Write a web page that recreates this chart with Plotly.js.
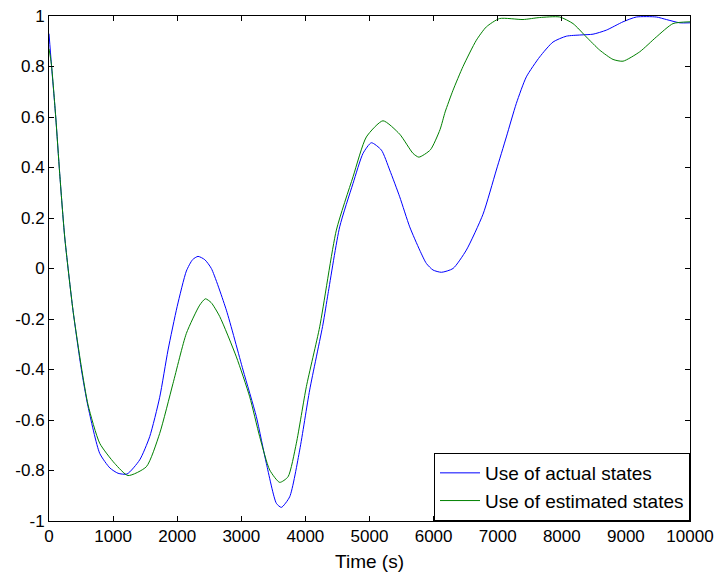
<!DOCTYPE html>
<html>
<head>
<meta charset="utf-8">
<script src="https://cdn.plot.ly/plotly-3.0.1.min.js"></script>
<style>html,body{margin:0;padding:0;background:#fff}#chart{width:719px;height:579px}</style>
</head>
<body>
<div id="chart"></div>
<script>
// Time (s) samples and values
const tActual = [0, 37, 105, 167, 245, 374, 505, 609, 791, 950, 1077, 1217, 1415, 1571, 1727, 1857, 2000, 2143, 2240, 2325, 2430, 2533, 2767, 3027, 3235, 3391, 3547, 3625, 3755, 3911, 4067, 4275, 4353, 4535, 4743, 4899, 5029, 5186, 5315, 5471, 5627, 5783, 5887, 5991, 6122, 6303, 6511, 6771, 6979, 7135, 7291, 7447, 7655, 7863, 8071, 8300, 8487, 8695, 8955, 9163, 9475, 9631, 9839, 10000];
const yActual = [0.93, 0.81, 0.60, 0.376, 0.125, -0.165, -0.40, -0.547, -0.732, -0.79, -0.811, -0.814, -0.758, -0.666, -0.51, -0.323, -0.15, -0.01, 0.035, 0.048, 0.035, 0.0, -0.165, -0.402, -0.587, -0.772, -0.93, -0.946, -0.904, -0.719, -0.481, -0.22, -0.1, 0.165, 0.337, 0.456, 0.498, 0.469, 0.39, 0.284, 0.165, 0.073, 0.02, -0.006, -0.015, 0.0, 0.073, 0.215, 0.39, 0.521, 0.654, 0.759, 0.838, 0.897, 0.92, 0.925, 0.928, 0.944, 0.977, 0.996, 0.996, 0.986, 0.973, 0.973];

const tEstimated = [0, 37, 105, 167, 245, 374, 505, 609, 791, 1025, 1233, 1519, 1727, 1935, 2143, 2351, 2440, 2530, 2663, 2923, 3131, 3287, 3443, 3599, 3729, 3859, 4015, 4223, 4483, 4743, 4951, 5210, 5471, 5679, 5770, 5950, 6100, 6180, 6303, 6459, 6667, 6823, 7031, 7395, 7655, 7967, 8175, 8383, 8591, 8799, 8955, 9215, 9475, 9735, 10000];
const yEstimated = [0.87, 0.81, 0.60, 0.376, 0.125, -0.165, -0.39, -0.54, -0.692, -0.772, -0.82, -0.785, -0.653, -0.455, -0.257, -0.145, -0.12, -0.135, -0.19, -0.35, -0.508, -0.666, -0.798, -0.847, -0.825, -0.692, -0.468, -0.231, 0.152, 0.363, 0.521, 0.585, 0.532, 0.456, 0.441, 0.47, 0.55, 0.62, 0.706, 0.80, 0.904, 0.957, 0.99, 0.986, 0.994, 0.996, 0.97, 0.917, 0.865, 0.828, 0.821, 0.858, 0.917, 0.97, 0.977];

const seriesNames = ["Use of actual states", "Use of estimated states"];
const xTicks = [0, 1000, 2000, 3000, 4000, 5000, 6000, 7000, 8000, 9000, 10000];
const yTicks = [-1, -0.8, -0.6, -0.4, -0.2, 0, 0.2, 0.4, 0.6, 0.8, 1];

const fontFam = "Liberation Sans, Arial, sans-serif";
const traces = [
  {x: tActual, y: yActual, name: seriesNames[0], type: "scatter", mode: "lines",
   line: {color: "#0000ff", width: 1, shape: "spline", smoothing: 0.6}},
  {x: tEstimated, y: yEstimated, name: seriesNames[1], type: "scatter", mode: "lines",
   line: {color: "#008000", width: 1, shape: "spline", smoothing: 0.6}}
];
const axisCommon = {
  showline: true, linecolor: "#000", linewidth: 1, mirror: "ticks",
  ticks: "inside", ticklen: 5, tickcolor: "#000", tickwidth: 1,
  showgrid: false, zeroline: false,
  tickfont: {family: fontFam, size: 17, color: "#000"}
};
const layout = {
  width: 719, height: 579,
  margin: {l: 49, r: 29, t: 16, b: 58},
  paper_bgcolor: "#fff", plot_bgcolor: "#fff",
  showlegend: true,
  xaxis: Object.assign({}, axisCommon, {
    range: [0, 10000], tickmode: "array", tickvals: xTicks,
    ticktext: xTicks.map(String),
    title: {text: "Time (s)", font: {family: fontFam, size: 19, color: "#000"}, standoff: 9}
  }),
  yaxis: Object.assign({}, axisCommon, {
    range: [-1, 1], tickmode: "array", tickvals: yTicks,
    ticktext: yTicks.map(String)
  }),
  legend: {
    x: 1, y: 0, xanchor: "right", yanchor: "bottom",
    bgcolor: "#fff", bordercolor: "#000", borderwidth: 1,
    font: {family: fontFam, size: 19, color: "#000"},
    itemwidth: 40,
    tracegroupgap: 0
  }
};
Plotly.newPlot("chart", traces, layout, {staticPlot: true, displayModeBar: false});
</script>
</body>
</html>
